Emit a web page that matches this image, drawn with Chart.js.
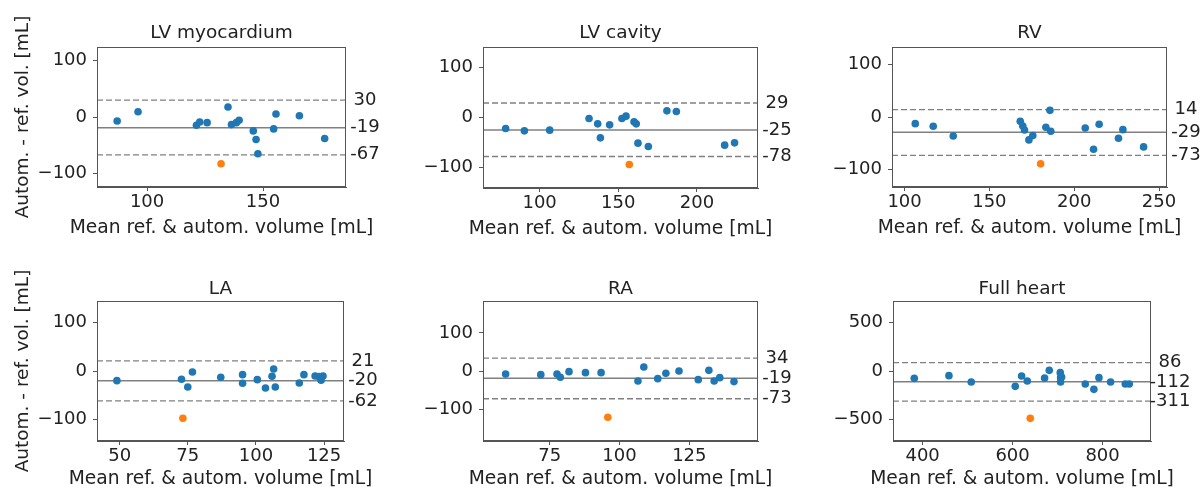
<!DOCTYPE html>
<html>
<head>
<meta charset="utf-8">
<script src="https://cdn.jsdelivr.net/npm/chart.js@4.4.1/dist/chart.umd.min.js"></script>
<style>
  html, body { margin: 0; padding: 0; background: #fff; width: 1201px; height: 488px; overflow: hidden; position: relative; }
  canvas { position: absolute; }
</style>
</head>
<body>
<script>
// texts
const panelTitles = ["LV myocardium", "LV cavity", "RV", "LA", "RA", "Full heart"];
const xLabel = "Mean ref. & autom. volume [mL]";
const yLabel = "Autom. - ref. vol. [mL]";

// LV myocardium
const lvmMean = [87.1, 96.1, 121.3, 122.7, 125.9, 134.9, 136.4, 138.5, 139.7, 145.8, 147.0, 147.8, 154.6, 155.6, 165.7, 176.6];
const lvmDiff = [-7, 9.4, -14.7, -8.8, -10, 17.6, -13.5, -10, -5.9, -24.6, -39.9, -65, -21.1, 5.3, 2.3, -38.1];
const lvmOutlier = [131.9, -82.7];
const lvmLimits = [30, -19, -67];
const lvmXTicks = [100, 150];

// LV cavity
const lvcMean = [78.4, 90.3, 106.4, 131.4, 136.9, 138.6, 144.5, 152.3, 154.9, 160.0, 161.4, 162.5, 169.1, 180.9, 186.9, 217.6, 223.9];
const lvcDiff = [-22, -26.7, -25.3, -2, -12.7, -40.7, -14.7, -2, 2.7, -8.7, -12.7, -51.3, -58, 13.3, 12, -55.3, -50.7];
const lvcOutlier = [157, -94];
const lvcLimits = [29, -25, -78];
const lvcXTicks = [100, 150, 200];

// RV
const rvMean = [106.3, 116.9, 128.7, 168.2, 169.7, 170.7, 173.3, 175.6, 183.3, 185.7, 186.2, 206.5, 211.4, 214.7, 226.1, 228.7, 240.9];
const rvDiff = [-12.6, -17.7, -36, -8.2, -17, -24.6, -43.5, -35.3, -19.6, 12.6, -27.1, -20.8, -61.2, -13.9, -40.4, -24, -56.8];
const rvOutlier = [180.2, -89];
const rvLimits = [14, -29, -73];
const rvXTicks = [100, 150, 200, 250];

// LA
const laMean = [49, 72.7, 75, 76.7, 87.1, 95.1, 95.1, 100.5, 103.5, 105.9, 106.5, 107.1, 115.9, 117.6, 121.7, 123.2, 123.9, 124.6];
const laDiff = [-20, -17.2, -33.1, -2.1, -13.1, -7.6, -25.5, -17.9, -35.2, -11, 4.1, -33.1, -24.8, -7.6, -10.3, -11.7, -19.3, -10.3];
const laOutlier = [73.2, -97.9];
const laLimits = [21, -20, -62];
const laXTicks = [50, 75, 100, 125];

// RA
const raMean = [59.2, 71.8, 77.6, 78.8, 81.9, 87.8, 93.4, 106.6, 108.7, 113.7, 116.6, 121.3, 128.2, 132, 133.9, 135.9, 141];
const raDiff = [-7.9, -9.6, -7.9, -16.6, -1.7, -4.4, -4.4, -26.2, 10.5, -20.1, -6.1, 0, -22.7, 1.7, -26.2, -17.5, -27.9];
const raOutlier = [95.8, -121.4];
const raLimits = [34, -19, -73];
const raXTicks = [75, 100, 125];

// Full heart
const fhMean = [381.5, 458.5, 508.1, 605.9, 620, 632.6, 671.1, 681.5, 705.9, 706.7, 706.7, 708.9, 761.5, 780.7, 791.9, 817.8, 850.4, 859.3];
const fhDiff = [-75.9, -48.3, -113.8, -158.6, -51.7, -103.4, -72.4, 6.9, -17.2, -69, -113.8, -62, -134.5, -189.7, -69, -113.8, -134.5, -134.5];
const fhOutlier = [639.3, -489.7];
const fhLimits = [86, -112, -311];
const fhXTicks = [400, 600, 800];

const volYTicks = [-100, 0, 100];
const heartYTicks = [-500, 0, 500];

const blue = "#1f77b4";
const orange = "#ff7f0e";
const lineGray = "#808080";
const frameGray = "#555";
const textColor = "#222";
const fontFamily = "'DejaVu Sans', sans-serif";

Chart.defaults.font.family = fontFamily;

// panel positions: [left, top, right, bottom] of the plot area on the page
const panels = [
    { title: panelTitles[0], mean: lvmMean, diff: lvmDiff, outlier: lvmOutlier, limits: lvmLimits, xTicks: lvmXTicks, yTicks: volYTicks, xMin: 78.4, xMax: 185.8, yLim: 124, box: [97, 47, 346, 187], row: 0, col: 0 },
    { title: panelTitles[1], mean: lvcMean, diff: lvcDiff, outlier: lvcOutlier, limits: lvcLimits, xTicks: lvcXTicks, yTicks: volYTicks, xMin: 64, xMax: 238.8, yLim: 141, box: [483, 47, 758, 188], row: 0, col: 1 },
    { title: panelTitles[2], mean: rvMean, diff: rvDiff, outlier: rvOutlier, limits: rvLimits, xTicks: rvXTicks, yTicks: volYTicks, xMin: 92.6, xMax: 254.7, yLim: 133, box: [892, 47, 1167, 187], row: 0, col: 2 },
    { title: panelTitles[3], mean: laMean, diff: laDiff, outlier: laOutlier, limits: laLimits, xTicks: laXTicks, yTicks: volYTicks, xMin: 41.7, xMax: 132.3, yLim: 145, box: [97, 301, 344, 441], row: 1, col: 0 },
    { title: panelTitles[4], mean: raMean, diff: raDiff, outlier: raOutlier, limits: raLimits, xTicks: raXTicks, yTicks: volYTicks, xMin: 51.1, xMax: 149.6, yLim: 184, box: [483, 301, 758, 441], row: 1, col: 1 },
    { title: panelTitles[5], mean: fhMean, diff: fhDiff, outlier: fhOutlier, limits: fhLimits, xTicks: fhXTicks, yTicks: heartYTicks, xMin: 334.2, xMax: 907.6, yLim: 724, box: [893, 301, 1151, 441], row: 1, col: 2 },
];

// frame, panel title, axis titles and limit labels
const panelText = {
    id: "panelText",
    afterDraw(chart, args, opts) {
        const { ctx, chartArea } = chart;
        const yScale = chart.scales.y;
        const midX = (chartArea.left + chartArea.right) / 2;
        ctx.save();
        ctx.strokeStyle = frameGray;
        ctx.lineWidth = 1;
        ctx.strokeRect(chartArea.left + 0.5, chartArea.top + 0.5, chartArea.width - 1, chartArea.height - 1);

        ctx.fillStyle = textColor;
        ctx.textBaseline = "middle";
        ctx.textAlign = "center";
        ctx.font = "18.5px " + fontFamily;
        ctx.fillText(opts.title, midX, chartArea.top - opts.titleGap);

        ctx.font = "18.7px " + fontFamily;
        ctx.fillText(xLabel, midX, chartArea.bottom + opts.xLabelGap);

        if (opts.showYLabel) {
            ctx.save();
            ctx.font = "18.5px " + fontFamily;
            ctx.translate(23, (chartArea.top + chartArea.bottom) / 2);
            ctx.rotate(-Math.PI / 2);
            ctx.fillText(yLabel, 0, 0);
            ctx.restore();
        }

        ctx.font = "18px " + fontFamily;
        opts.limits.forEach((v) => {
            ctx.fillText(String(v), chartArea.right + 19, yScale.getPixelForValue(v));
        });
        ctx.restore();
    },
};

panels.forEach((p) => {
    const [left, top, right, bottom] = p.box;
    const yW = p.col === 0 ? left : 60;
    const rightPad = 50;
    const titleH = 36;
    const xH = p.row === 0 ? 54 : 50;

    const canvas = document.createElement("canvas");
    canvas.width = yW + (right - left) + rightPad;
    canvas.height = titleH + (bottom - top) + xH;
    canvas.style.left = (left - yW) + "px";
    canvas.style.top = (top - titleH) + "px";
    canvas.style.width = canvas.width + "px";
    canvas.style.height = canvas.height + "px";
    document.body.appendChild(canvas);

    const points = p.mean.map((m, i) => ({ x: m, y: p.diff[i] }));
    const limitLine = (v, dashed) => ({
        data: [{ x: p.xMin, y: v }, { x: p.xMax, y: v }],
        showLine: true,
        pointRadius: 0,
        borderColor: lineGray,
        borderWidth: dashed ? 1.3 : 1.5,
        borderDash: dashed ? [6, 3] : [],
    });

    new Chart(canvas, {
        type: "scatter",
        data: {
            datasets: [
                { data: points, backgroundColor: blue, borderWidth: 0, pointRadius: 3.8 },
                { data: [{ x: p.outlier[0], y: p.outlier[1] }], backgroundColor: orange, borderWidth: 0, pointRadius: 3.8 },
                limitLine(p.limits[1], false),
                limitLine(p.limits[0], true),
                limitLine(p.limits[2], true),
            ],
        },
        options: {
            responsive: false,
            animation: false,
            devicePixelRatio: 1,
            layout: { padding: { left: 0, right: rightPad, top: titleH, bottom: 0 } },
            plugins: {
                legend: { display: false },
                tooltip: { enabled: false },
                title: { display: false },
                panelText: {
                    title: p.title,
                    limits: p.limits,
                    titleGap: p.row === 0 ? 14 : 11.5,
                    xLabelGap: p.row === 0 ? 41 : 38,
                    showYLabel: p.col === 0,
                },
            },
            scales: {
                x: {
                    type: "linear",
                    position: "bottom",
                    min: p.xMin,
                    max: p.xMax,
                    afterBuildTicks: (s) => { s.ticks = p.xTicks.map((v) => ({ value: v })); },
                    afterFit: (s) => { s.height = xH; s.paddingLeft = 0; s.paddingRight = 0; },
                    grid: { drawOnChartArea: false, drawTicks: true, tickLength: 4, color: frameGray },
                    border: { display: true, color: frameGray },
                    ticks: { color: textColor, font: { size: 18 }, padding: 1, maxRotation: 0, autoSkip: false },
                },
                y: {
                    type: "linear",
                    min: -p.yLim,
                    max: p.yLim,
                    afterBuildTicks: (s) => { s.ticks = p.yTicks.map((v) => ({ value: v })); },
                    afterFit: (s) => { s.width = yW; s.paddingTop = 0; s.paddingBottom = 0; },
                    grid: { drawOnChartArea: false, drawTicks: true, tickLength: 4, color: frameGray },
                    border: { display: true, color: frameGray },
                    ticks: {
                        color: textColor,
                        font: { size: 18 },
                        padding: 6,
                        callback: (v) => String(v).replace("-", "\u2212"),
                    },
                },
            },
        },
        plugins: [panelText],
    });
});
</script>
</body>
</html>
